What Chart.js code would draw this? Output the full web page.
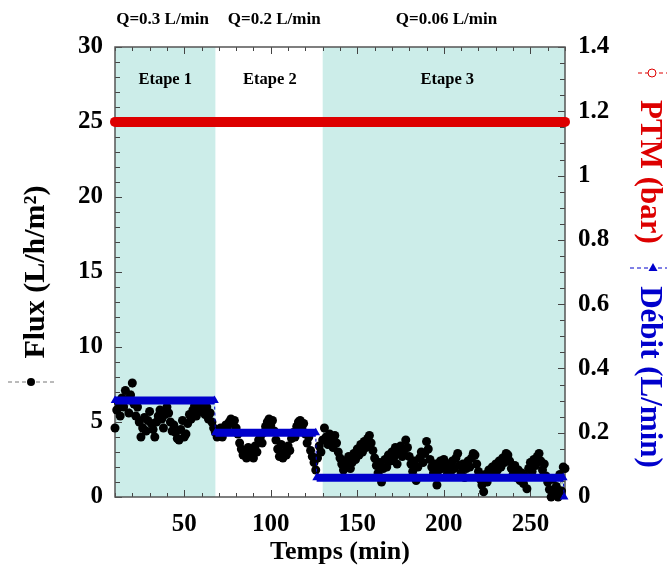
<!DOCTYPE html>
<html>
<head>
<meta charset="utf-8">
<script src="https://cdn.jsdelivr.net/npm/chart.js@4.4.1/dist/chart.umd.min.js"></script>
<style>
  html, body { margin: 0; padding: 0; background: #fff; }
  #wrap { width: 667px; height: 567px; }
</style>
</head>
<body>
<div id="wrap"><canvas id="chart" width="667" height="567"></canvas></div>
<script>
// Flux (L/h/m²), one reading per minute starting at t = 10 min
const fluxStart = 10;
const flux = [
    4.6, 5.8, 6.3, 5.4, 6.6, 6.0, 7.1, 6.5, 5.6, 6.8,   // 10-19
    7.6, 6.2, 5.4, 6.0, 5.0, 4.0, 4.6, 5.3, 4.4, 5.1,   // 20-29
    5.7, 4.9, 4.5, 4.0, 5.0, 5.4, 5.8, 5.2, 4.6, 5.5,   // 30-39
    6.0, 5.6, 5.0, 4.4, 4.8, 4.3, 3.9, 3.8, 4.5, 5.1,   // 40-49
    4.0, 4.2, 4.9, 5.5, 5.2, 5.8, 6.1, 5.4, 5.9, 6.2,   // 50-59
    5.7, 6.3, 5.5, 6.0, 5.2, 5.6, 5.0, 4.6, 4.3, 4.0,   // 60-69
    4.2, 4.6, 4.0, 4.4, 4.8, 4.5, 5.0, 5.2, 4.9, 5.1,   // 70-79
    4.6, 4.2, 3.6, 3.2, 2.8, 3.0, 2.6, 3.3, 2.7, 3.1,   // 80-89
    2.6, 3.4, 3.0, 3.8, 4.0, 3.6, 4.3, 4.7, 5.0, 5.2,   // 90-99
    4.8, 5.1, 4.4, 3.8, 3.2, 2.7, 3.5, 2.6, 3.0, 2.8,   // 100-109
    3.4, 3.1, 3.9, 4.3, 4.0, 4.7, 5.0, 5.1, 4.6, 4.9,   // 110-119
    4.2, 3.6, 4.0, 3.1, 2.7, 2.3, 1.8, 2.6, 3.4, 3.0,   // 120-129
    3.8, 4.6, 4.0, 3.5, 4.2, 3.7, 3.3, 4.1, 3.6, 3.0,   // 130-139
    2.6, 2.2, 1.8, 2.4, 2.0, 2.7, 1.9, 2.3, 2.9, 2.5,   // 140-149
    3.2, 2.8, 3.5, 3.0, 3.7, 3.3, 3.9, 4.1, 3.6, 3.1,   // 150-159
    2.6, 2.1, 1.6, 2.3, 1.0, 1.9, 2.5, 2.0, 2.8, 2.4,   // 160-169
    3.0, 2.6, 3.3, 2.2, 2.9, 3.4, 2.7, 3.1, 3.8, 3.3,   // 170-179
    2.7, 2.2, 1.7, 2.4, 1.1, 2.0, 2.6, 3.0, 2.3, 2.9,   // 180-189
    3.7, 3.2, 2.5, 2.0, 1.6, 2.2, 0.8, 1.8, 2.4, 1.9,   // 190-199
    2.5, 2.0, 1.5, 2.2, 1.7, 2.4, 1.9, 2.6, 2.9, 2.1,   // 200-209
    1.6, 2.2, 1.3, 1.9, 2.4, 2.0, 2.6, 2.9, 2.8, 2.2,   // 210-219
    1.7, 1.2, 0.8, 0.35, 1.5, 1.0, 1.8, 1.4, 2.0, 1.6,  // 220-229
    2.2, 1.8, 2.4, 2.0, 2.6, 2.3, 2.9, 2.8, 2.4, 1.9,   // 230-239
    1.5, 2.1, 1.3, 1.8, 1.1, 1.6, 0.9, 1.4, 0.55, 1.9,  // 240-249
    2.3, 1.7, 2.5, 2.1, 2.7, 2.9, 2.4, 1.8, 2.2, 1.4,   // 250-259
    1.0, 0.5, 0.0, 1.2, 0.3, 0.7, 0.0, 1.5, 0.4, 2.0, 1.9  // 260-270
];

// Débit (L/min): steps of the feed pump
const debitTemps = [10, 67.5, 68, 126, 126.5, 269, 269.5];
const debit = [0.3, 0.3, 0.2, 0.2, 0.06, 0.06, 0];

// PTM (bar)
const ptmTemps = [10, 270];
const ptm = [1.167, 1.167];

// stages
const etapes = ["Etape 1", "Etape 2", "Etape 3"];
const etapeDebut = [10, 68, 130];
const etapeFin = [68, 130, 270];
const etapeOmbre = [true, false, true];
const etapeCentre = [39, 99.5, 202];

const qLabels = ["Q=0.3 L/min", "Q=0.2 L/min", "Q=0.06 L/min"];
const qCentre = [37.5, 102, 201.5];

const RED = "#dd0000";
const BLUE = "#0000cc";
const SERIF = "'Liberation Serif', 'Times New Roman', serif";

Chart.defaults.font.family = SERIF;

function isMult(v, step) {
    return Math.abs(v / step - Math.round(v / step)) < 1e-6;
}

const decor = {
    id: "decor",
    beforeDraw(chart) {
        const { ctx, chartArea: a, scales: { x } } = chart;
        ctx.save();
        ctx.fillStyle = "#ccede9";
        etapeDebut.forEach((d, i) => {
            if (!etapeOmbre[i]) return;
            const x0 = x.getPixelForValue(d);
            const x1 = x.getPixelForValue(etapeFin[i]);
            ctx.fillRect(x0, a.top, x1 - x0, a.bottom - a.top);
        });
        ctx.restore();
    },
    beforeDatasetsDraw(chart) {
        const { ctx, chartArea: a, scales: { x, y, y1 } } = chart;
        ctx.save();
        ctx.strokeStyle = "#444";
        ctx.lineWidth = 1;
        ctx.beginPath();
        x.ticks.forEach(t => {
            const p = Math.round(x.getPixelForValue(t.value)) + 0.5;
            const len = isMult(t.value, 50) ? 7 : 4;
            ctx.moveTo(p, a.bottom); ctx.lineTo(p, a.bottom - len);
            ctx.moveTo(p, a.top); ctx.lineTo(p, a.top + len);
        });
        y.ticks.forEach(t => {
            const p = Math.round(y.getPixelForValue(t.value)) + 0.5;
            const len = isMult(t.value, 5) ? 7 : 5;
            ctx.moveTo(a.left, p); ctx.lineTo(a.left + len, p);
        });
        y1.ticks.forEach(t => {
            const p = Math.round(y1.getPixelForValue(t.value)) + 0.5;
            const len = isMult(t.value, 0.2) ? 7 : 5;
            ctx.moveTo(a.right, p); ctx.lineTo(a.right - len, p);
        });
        ctx.stroke();
        ctx.strokeStyle = "#555";
        ctx.lineWidth = 1.5;
        ctx.strokeRect(a.left, a.top, a.right - a.left, a.bottom - a.top);
        ctx.restore();
    },
    afterDraw(chart) {
        const { ctx, scales: { x } } = chart;
        ctx.save();
        ctx.textAlign = "center";
        ctx.textBaseline = "middle";
        ctx.fillStyle = "#000";
        ctx.font = "bold 17px " + SERIF;
        qLabels.forEach((s, i) => ctx.fillText(s, x.getPixelForValue(qCentre[i]), 20));
        ctx.font = "bold 16.5px " + SERIF;
        etapes.forEach((s, i) => ctx.fillText(s, x.getPixelForValue(etapeCentre[i]), 80));

        // right axis titles (two series share the right axis)
        ctx.font = "bold 31px " + SERIF;
        [["PTM (bar)", 172, RED], ["Débit (L/min)", 377, BLUE]].forEach(([s, cy, c]) => {
            ctx.save();
            ctx.translate(649, cy);
            ctx.rotate(Math.PI / 2);
            ctx.fillStyle = c;
            ctx.fillText(s, 0, 0);
            ctx.restore();
        });

        // legend keys next to the titles
        ctx.lineWidth = 1;
        ctx.setLineDash([4, 3]);
        ctx.strokeStyle = "#777";
        ctx.beginPath(); ctx.moveTo(8, 382); ctx.lineTo(54, 382); ctx.stroke();
        ctx.strokeStyle = RED;
        ctx.beginPath(); ctx.moveTo(638, 73); ctx.lineTo(667, 73); ctx.stroke();
        ctx.strokeStyle = BLUE;
        ctx.beginPath(); ctx.moveTo(630, 268); ctx.lineTo(667, 268); ctx.stroke();
        ctx.setLineDash([]);
        ctx.fillStyle = "#000";
        ctx.beginPath(); ctx.arc(31, 382, 4, 0, Math.PI * 2); ctx.fill();
        ctx.fillStyle = "#fff";
        ctx.strokeStyle = RED;
        ctx.beginPath(); ctx.arc(652, 73, 4, 0, Math.PI * 2); ctx.fill(); ctx.stroke();
        ctx.fillStyle = BLUE;
        ctx.beginPath(); ctx.moveTo(653, 263); ctx.lineTo(657.5, 271); ctx.lineTo(648.5, 271); ctx.closePath(); ctx.fill();
        ctx.restore();
    }
};

const tickFont = { size: 25, weight: "bold" };

new Chart(document.getElementById("chart"), {
    type: "line",
    data: {
        datasets: [
            {
                label: "PTM (bar)",
                data: ptmTemps.map((t, i) => ({ x: t, y: ptm[i] })),
                yAxisID: "y1",
                borderColor: RED,
                borderWidth: 10,
                borderCapStyle: "round",
                pointRadius: 0,
                clip: false,
            },
            {
                label: "Débit (L/min)",
                data: debitTemps.map((t, i) => ({ x: t, y: debit[i] })),
                yAxisID: "y1",
                borderColor: BLUE,
                backgroundColor: BLUE,
                pointStyle: "triangle",
                pointRadius: 5,
                pointBorderWidth: 0,
                pointBackgroundColor: BLUE,
                segment: {
                    borderWidth: ctx => ctx.p0.parsed.y === ctx.p1.parsed.y ? 8 : 1,
                    borderDash: ctx => ctx.p0.parsed.y === ctx.p1.parsed.y ? [] : [3, 3],
                },
                clip: false,
            },
            {
                label: "Flux (L/h/m²)",
                data: flux.map((v, i) => ({ x: fluxStart + i, y: v })),
                yAxisID: "y",
                borderColor: "#777",
                borderWidth: 1,
                borderDash: [3, 3],
                pointRadius: 4.5,
                pointBorderWidth: 0,
                pointBackgroundColor: "#000",
                clip: false,
            }
        ]
    },
    options: {
        responsive: false,
        animation: false,
        devicePixelRatio: 1,
        layout: { padding: { top: 47, left: 0, right: 0, bottom: 0 } },
        plugins: { legend: { display: false }, tooltip: { enabled: false } },
        scales: {
            x: {
                type: "linear", min: 10, max: 270,
                grid: { display: false, drawTicks: false }, border: { display: false },
                ticks: {
                    stepSize: 10, autoSkip: false, maxRotation: 0, padding: 13,
                    color: "#000", font: tickFont,
                    callback: v => isMult(v, 50) ? v : ""
                },
                title: {
                    display: true, text: "Temps (min)", color: "#000",
                    font: { size: 26, weight: "bold", lineHeight: 1 },
                    padding: { top: 0, bottom: 2 }
                },
                afterFit: s => { s.height = 70; }
            },
            y: {
                position: "left", min: 0, max: 30,
                grid: { display: false, drawTicks: false }, border: { display: false },
                ticks: {
                    stepSize: 1, autoSkip: false, padding: 12,
                    color: "#000", font: tickFont,
                    callback: v => isMult(v, 5) ? v : ""
                },
                title: {
                    display: true, text: "Flux (L/h/m²)", color: "#000",
                    font: { size: 30, weight: "bold", lineHeight: 1 },
                    padding: { top: 21, bottom: 0 }
                },
                afterFit: s => { s.width = 115; }
            },
            y1: {
                position: "right", min: 0, max: 1.4,
                grid: { display: false, drawTicks: false }, border: { display: false },
                ticks: {
                    stepSize: 0.05, autoSkip: false, padding: 13,
                    color: "#000", font: tickFont,
                    callback: v => isMult(v, 0.2) ? String(Math.round(v * 10) / 10) : ""
                },
                afterFit: s => { s.width = 102; }
            }
        }
    },
    plugins: [decor]
});
</script>
</body>
</html>
